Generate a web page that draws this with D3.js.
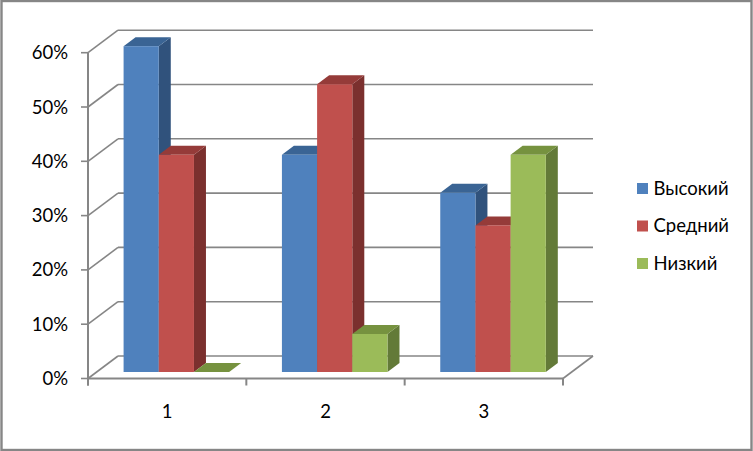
<!DOCTYPE html>
<html><head><meta charset="utf-8">
<script src="https://cdn.jsdelivr.net/npm/d3@7"></script>
<style>html,body{margin:0;padding:0;background:#fff}svg{display:block}text{font-family:Lato,"Open Sans",sans-serif;font-size:18.5px;fill:#000}</style>
</head><body><div id="c"></div>
<script>
const categories = ["1","2","3"];
const seriesNames = ["Высокий","Средний","Низкий"];
const vysokiy = [60,40,33];
const sredniy = [40,53,27];
const nizkiy = [0,7,40];
const yTicks = [0,10,20,30,40,50,60];
const frontColors = ["#4f81bd","#c0504d","#9bbb59"];
const topColors = ["#3a6494","#953b39","#76923f"];
const sideColors = ["#30527c","#7b302e","#637a38"];
const seriesValues = [vysokiy,sredniy,nizkiy];

const W=753,H=451;
const svg=d3.select("#c").append("svg").attr("width",W).attr("height",H);
svg.append("rect").attr("width",W).attr("height",H).attr("fill","#fff");
const grey="#868686";
const y=d3.scaleLinear().domain([0,60]).range([378.5,52.7]);
const x=d3.scaleBand().domain(categories).range([88,563]).paddingInner(1/3).paddingOuter(1/6);
const xAxisBand=d3.scaleBand().domain(categories).range([88,563]);
const inner=d3.scaleBand().domain(d3.range(3)).range([0,x.bandwidth()]);
const wallDx=30,wallDy=-22.5;
const barDx=12,barDy=-9,barShiftX=9.2,barShiftY=-6.5;
const line=(x1,y1,x2,y2,w=1.6)=>svg.append("line").attr("x1",x1).attr("y1",y1).attr("x2",x2).attr("y2",y2).attr("stroke",grey).attr("stroke-width",w);

yTicks.forEach(t=>{
  const yy=y(t);
  line(88,yy,88+wallDx,yy+wallDy);
  line(88+wallDx,yy+wallDy,563+wallDx,yy+wallDy);
  line(81,yy,88,yy);
  svg.append("text").attr("x",68).attr("y",yy+6.5).attr("text-anchor","end").text(t+"%");
});
line(88,y(60),88,y(0)+7,2);
line(88,y(0),563,y(0),2);
line(563,y(0),563+wallDx,y(0)+wallDy);
xAxisBand.domain().forEach((c,i)=>line(88+i*xAxisBand.step(),y(0),88+i*xAxisBand.step(),y(0)+7,2));
line(563,y(0),563,y(0)+7,2);
categories.forEach(c=>{
  svg.append("text").attr("x",xAxisBand(c)+xAxisBand.bandwidth()/2).attr("y",418).attr("text-anchor","middle").text(c);
});

categories.forEach((c,ci)=>{
  seriesNames.forEach((s,si)=>{
    const v=seriesValues[si][ci];
    const x0=x(c)+inner(si)+barShiftX, x1=x0+inner.bandwidth();
    const yb=y(0)+barShiftY, yt=y(v)+barShiftY;
    const pts=a=>a.map(p=>p.join(",")).join(" ");
    svg.append("polygon").attr("points",pts([[x1,yb],[x1+barDx,yb+barDy],[x1+barDx,yt+barDy],[x1,yt]])).attr("fill",sideColors[si]);
    svg.append("polygon").attr("points",pts([[x0,yt],[x0+barDx,yt+barDy],[x1+barDx,yt+barDy],[x1,yt]])).attr("fill",topColors[si]);
    if(yb>yt) svg.append("rect").attr("x",x0).attr("y",yt).attr("width",x1-x0).attr("height",yb-yt).attr("fill",frontColors[si]);
  });
});

const legendY=d3.scalePoint().domain(seriesNames).range([188.5,263.5]);
seriesNames.forEach((s,i)=>{
  svg.append("rect").attr("x",637).attr("y",legendY(s)-5.5).attr("width",11).attr("height",11).attr("fill",frontColors[i]);
  svg.append("text").attr("x",653.5).attr("y",legendY(s)+6).text(s);
});
svg.append("rect").attr("x",1.5).attr("y",1).attr("width",W-3).attr("height",H-2).attr("fill","none").attr("stroke",grey).attr("stroke-width",2.4);
</script></body></html>
